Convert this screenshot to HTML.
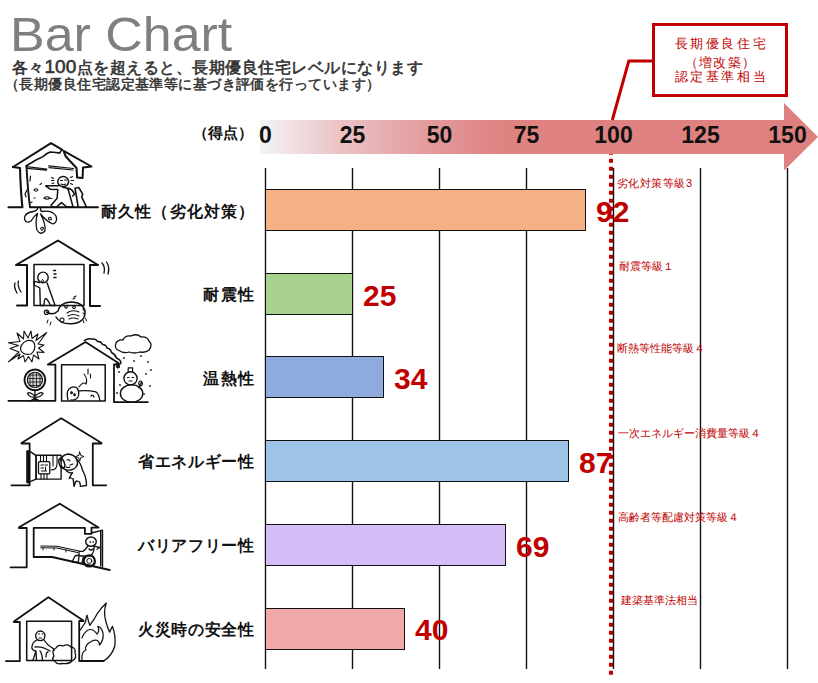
<!DOCTYPE html>
<html><head><meta charset="utf-8">
<style>
@font-face{font-family:"Liberation Sans JP";src:local("Liberation Sans");size-adjust:133%;unicode-range:U+3000-30FF,U+4E00-9FFF,U+FF00-FFEF;}
html,body{margin:0;padding:0;}
body{width:818px;height:683px;overflow:hidden;background:#fff;position:relative;font-family:"Liberation Sans",sans-serif;}
.a{position:absolute;white-space:nowrap;}
.jp{font-family:"Liberation Sans JP","Liberation Sans",sans-serif;text-align:justify;text-align-last:justify;}
#title{left:10.2px;top:6.7px;font-size:49px;line-height:54px;color:#7f7f7f;transform:scaleX(1.06);transform-origin:0 0;}
.ax{font-weight:bold;font-size:23px;line-height:24px;color:#111;top:123px;width:60px;text-align:center;}
.val{font-weight:bold;font-size:30px;line-height:32px;color:#c00000;}
.bar{position:absolute;border:1.3px solid #111;box-sizing:border-box;left:265px;height:42px;}
#callout{left:652px;top:23px;width:135.5px;height:73.5px;border:3px solid #c00000;box-sizing:border-box;}
</style></head>
<body>
<div class="a" id="title">Bar Chart</div>

<svg class="a" style="left:0;top:0" width="818" height="683" viewBox="0 0 818 683">
  <defs>
    <linearGradient id="ag" x1="260" y1="0" x2="818" y2="0" gradientUnits="userSpaceOnUse">
      <stop offset="0" stop-color="#f3f4f8"/>
      <stop offset="0.14" stop-color="#ebc4c6"/>
      <stop offset="0.285" stop-color="#e49ea0"/>
      <stop offset="0.43" stop-color="#df8282"/>
      <stop offset="1" stop-color="#df8080"/>
    </linearGradient>
  </defs>
  <path d="M260 120 H784 V103 L818 137 L784 170.5 V154 H260 Z" fill="url(#ag)"/>
  <g stroke="#111" stroke-width="1.4">
    <line x1="265.5" y1="168" x2="265.5" y2="669"/>
    <line x1="352.5" y1="168" x2="352.5" y2="669"/>
    <line x1="439.5" y1="168" x2="439.5" y2="669"/>
    <line x1="526.5" y1="168" x2="526.5" y2="669"/>
    <line x1="613.5" y1="168" x2="613.5" y2="669"/>
    <line x1="700.5" y1="168" x2="700.5" y2="669"/>
    <line x1="787.5" y1="168" x2="787.5" y2="669"/>
  </g>
  <polyline points="652,61 628.8,61 612.3,120" fill="none" stroke="#c00000" stroke-width="3"/>
  <line x1="611" y1="154" x2="611" y2="675" stroke="#c00000" stroke-width="4" stroke-dasharray="4 4" stroke-dashoffset="3.2"/>
</svg>
<svg class="a" style="left:0;top:0" width="818" height="683" viewBox="0 0 818 683" fill="none" stroke="#111" stroke-width="1.6" stroke-linejoin="round" stroke-linecap="round">
 <g>
  <path d="M13,167 L51,143.2 L62,149.6 M63.6,150.8 L91.5,166.5 L83,167.6 L82.6,178 L77.2,177.6 L76.5,168 L69,160 L65.5,156 L63.6,150.8" stroke-width="2"/>
  <path d="M13,167 L20,168 Q20.6,190 22.4,207.3 H8.5" stroke-width="2.1"/>
  <path d="M26,166 L36,160 L43,156.6 L47,153.5 L50.3,152 L56,152.5 L59.6,153.1 L61.9,149.6"/>
  <path d="M26.5,166.6 L46.8,169 M27,168.4 L46.5,170.2 M48.6,165.9 L73.5,168.5 M49,167.6 L73,170" stroke-width="1.2"/>
  <path d="M26.5,167 Q27.8,190 30,207.3 H98" stroke-width="1.9"/>
  <path d="M75,188.2 L78.7,187.5 L82.7,194.2 L81.7,196.9 L86.4,206.9 M75,188.2 L78.2,207" stroke-width="1.6"/>
  <path d="M38,207.5 Q37,211 33,211.5 Q24,213 24.5,219 Q26,224 31,221 Q34,216 37.5,213.5 Q35,222 37,230 Q40.5,236 45,231 Q46,224 40.5,214 Q47,222 53,224 Q58,222 56,216 Q52,209.5 41.5,211.5 Q40,209.5 40.5,207.5" stroke-width="1.3"/>
  <path d="M40.5,229 q1,-3 3,-1 q-1,3 -2,2 M48.5,218 q2,-2 3,1 q-1,2 -3,0" stroke-width="1.1"/>
  <ellipse cx="63.2" cy="181.6" rx="5.4" ry="5.2" stroke-width="1.5"/>
  <path d="M58.8,185.8 L45.7,185.8 L50.1,189.2 L57.8,189.5 L57.1,198.2 L51.1,205.3 L52.4,207.3 L56.5,207 L61.5,202.6 L66.9,207 L73,206.7 L68.2,189.5 Q66,187 63,187.5 M68,188 Q73,189.5 74.5,194.5 L72.5,196" stroke-width="1.5"/>
  <path d="M60.5,180.5 h2 M64.5,180 h2 M61,184 q2.5,1.5 4.5,0 M70.5,177.5 l2,-1 M71,180.5 l2.5,0 M70.5,183.5 l2,1 M51.5,177.5 l2,1 M51.5,180.5 l2.5,0 M52,183.5 l2,-0.5" stroke-width="1.1"/>
  <path d="M30.5,176 l-0.5,5 M34,190 q2,-2.5 4,0 q-2,2.5 -4,0 M44,198 q3,-2.5 6,0 q-3,2.5 -6,0 M40,184.5 l1.5,-1 M27,190 l-2,4 l1,3 M32,202 l-2,1 M34,198 h1 M51,198.5 h1" stroke-width="1.2"/>
 </g>
 <g>
  <path d="M16,265 L58,240.5 L98,265 M16,265 H27 V305.5 H17 M98,265 H90 V306 H100" stroke-width="2"/>
  <rect x="34" y="264.5" width="50" height="41" stroke-width="1.5"/>
  <ellipse cx="43" cy="277.4" rx="5.2" ry="5.3" stroke-width="1.4"/>
  <path d="M39.5,282.5 L34.3,281.4 L34.3,285 L39.8,288 L40.3,305.5 L44,305.5 Q44,298.5 46,298.5 Q48,300 50.5,305.5 L55.1,305.5 L47,282.8" stroke-width="1.4"/>
  <path d="M42.5,279.5 a1,1.2 0 1 0 0.1,0" stroke-width="1"/>
  <path d="M53.5,270.5 h2 M54,274 h2 M54,277.5 h2" stroke-width="1.5"/>
  <path d="M46.5,312 Q53,316 58,311 Q60,302.5 71,302 Q84,302.5 85,312 Q85,323 71,323.8 Q60,324 56,317" stroke-width="1.5"/>
  <circle cx="46.5" cy="312.3" r="2.2" stroke-width="1.2"/>
  <path d="M66,305.5 a1.3,1.3 0 1 0 0.1,0 M74,306 a1.3,1.3 0 1 0 0.1,0 M67,313 q5,-4 12,-1 M68,316 q5,-3 11,0 M69,319 q4,-2 9,0 M62,318 a2,2 0 1 0 0.1,0 M73,299 l2,-1 M74,297 l2,-1 M83,309 l2,2 M83,313 l2,1" stroke-width="1.1"/>
  <path d="M15,283 Q13.5,287 17,293 M18.5,281 Q17,286 21,292 M102,263 Q105.5,267 104,273 M106.5,262 Q110,267 108,274" stroke-width="1.3"/>
  <path d="M48,320 l-1,3 M51,322 l-1,3 M83,320 l1,3 M85.5,318 l1,3" stroke-width="1"/>
 </g>
 <g>
  <path d="M47.8,364.6 L85.5,342 L118.4,363 M47.8,364.6 H55.4 V400.8 H8.4 M118.4,364.5 H114 V402.2 H147.8" stroke-width="1.8"/>
  <path d="M84.4,340.4 Q88,338 92,339 Q96,338.5 97.5,341.5 Q101,341 102.5,344.5 Q106,344.5 107,348 Q111,349 111.5,352.5 Q115.5,354.5 116.5,358 Q121,360 121,363 Q120,364.5 118.4,363.5" stroke-width="1.4"/><path d="M116.3,364 L117,368 L118.6,368 L118.5,364" fill="#222" stroke-width="1"/>
  <path d="M116.5,363.5 l1,4 h2 l-0.3,-3" stroke-width="1"/>
  <rect x="61.6" y="364.8" width="43.6" height="36.2" stroke-width="1.5"/>
  <path d="M27.5,340.5 Q33,339.5 34.5,344 Q36,350 31,354 Q24,355.5 21,351 Q19,344 27.5,340.5" stroke-width="1.2"/>
  <path d="M8.4,361.8 L19,352 L10,348.5 L18.5,345.5 L8.4,342.7 L20,341.5 L17,333 L23.5,339 L24,331 L28,338 L31,331 L32,338.5 L38,334 L36,340.5 L46.7,332.5 L38,344 L44,345 L38.5,348 L44,352.5 L37,352 L39,359 L33.5,355 L32,362 L28.5,356.5 L25,362 L23.5,355.5 L18,359 L20,354 Z" stroke-width="1.1"/>
  <circle cx="34.9" cy="379.9" r="10.3" stroke-width="2" stroke-dasharray="1.3 1.2"/>
  <circle cx="34.9" cy="379.9" r="7.6" fill="#d4d4d4" stroke-width="1.1"/>
  <path d="M29,375 h12 M28.5,378.5 h13 M28.5,382 h13 M29.5,385.5 h11 M30,374 v12 M33,373 v14 M36.5,373 v14 M40,374 v12" stroke-width="0.8"/>
  <path d="M34.9,390 V400 M34.9,396 Q29,391 27.5,393.5 Q30,398 34.9,397 M34.9,396 Q41,391 43,393.5 Q40,398 34.9,397 M30,401.2 L34.9,398 L40,401.2" stroke-width="1.3"/>
  <path d="M118,350 Q114,348 116,343 Q118,339 123,340 Q125,335 131,336 Q137,333 141,337 Q147,336 149,341 Q153,345 149,350 Q146,353 140,352 Q134,354 129,352 Q124,354 118,350 Z" stroke-width="1.3"/>
  <circle cx="130.5" cy="378.3" r="6.6" stroke-width="1.4"/>
  <ellipse cx="131.6" cy="393.6" rx="11.2" ry="8.8" stroke-width="1.4"/>
  <path d="M128.2,372 v-4.2 h4.4 v4.2 M127.5,377.5 h1.5 M132,377.5 h1.5 M129,381 h3 M139,388 l2.5,-6 M140.5,381 a1.8,2.5 0 1 0 0.1,0" stroke-width="1.2"/>
  <path d="M68,400 Q66,392 69,389 Q73,385.5 77,388 Q80,392 78,397 Q76,400.5 71,400 M78.2,390.9 Q88,390 95.8,391.8 Q99,394 99.8,400.6 M71.5,392 a0.8,0.8 0 1 0 0.1,0 M74.5,394 a0.8,0.8 0 1 0 0.1,0 M91,396 q2,-2 3,1" stroke-width="1.3"/>
  <path d="M79,387 Q83,381 86,384 Q88,379 84,374 M88,369 v5 M90.5,374 v4" stroke-width="1.1"/>
  <g fill="#444" stroke="none"><circle cx="124" cy="358" r="1.1"/><circle cx="134" cy="361" r="1.1"/><circle cx="141" cy="356" r="1.1"/><circle cx="148" cy="362" r="1.1"/><circle cx="146" cy="374" r="1.1"/><circle cx="119" cy="372" r="1.1"/><circle cx="120" cy="385" r="1.1"/><circle cx="144" cy="394" r="1.1"/><circle cx="150" cy="386" r="1.1"/><circle cx="117" cy="393" r="1.1"/><circle cx="151" cy="370" r="1.1"/></g>
 </g>
 <g>
  <path d="M21.5,443 L61.2,418.3 L101.5,443 M21.5,443.5 H29.6 V485.3 H11.4 M101.5,443.5 H92.8 V485.3 H106.2" stroke-width="1.8"/>
  <path d="M29.6,451.2 L36.1,455.7 L36.1,479.1 L29.6,481.9" stroke-width="1.5"/>
  <path d="M27.8,451.5 V482" stroke-width="3.2"/>
  <rect x="36.1" y="455.3" width="25" height="23.8" stroke-width="1.4"/>
  <rect x="38.5" y="461.7" width="11.3" height="12.1" rx="1" stroke-width="1.3"/>
  <path d="M40.5,456 v5.5 M43.5,456 v5.5 M46.5,456 v5.5 M41,474 v5 M44,474 v5 M47,474 v5 M53,456 v10 M57,456 v8 M57,464 Q57,470 51,470 M41,465 h2.5 M45,465 h2.5 M41,468 h2.5 M45.5,467 v3 M41.5,471 h5" stroke-width="1.1"/>
  <path d="M61,461.5 Q61,455 68,454 Q76,454.5 77.5,462 Q78,468 71,470 Q64,471 61.5,466" stroke-width="1.4"/>
  <ellipse cx="61.8" cy="463.3" rx="2.6" ry="5" transform="rotate(-18 61.8 463.3)" stroke-width="1.5"/>
  <path d="M76,458.5 Q81,463 82.5,470 Q86,477 86.3,482 L86.5,485.5 L80.5,486.4 L79.7,482.3 Q77,480 75.5,482 L74,486.4 L73.2,479 Q70,477 69.2,478.3 M66,470.5 Q70,474 72.5,472.6 L69.5,477.5" stroke-width="1.4"/>
  <path d="M67,460 q2,-1 3,1 M70,465 l3,-1 M66,467 q2,1 4,0" stroke-width="1.1"/>
  <path d="M79.7,452 L80.8,455.4 L84,456.5 L80.8,457.6 L79.7,461 L78.6,457.6 L75.5,456.5 L78.6,455.4 Z" stroke-width="1"/>
 </g>
 <g>
  <path d="M19,527.3 L59.8,503.7 L98.5,527.6 H91.5 V533.8 H84.9 V527.9 H33.7 V557 H52 L109.8,570 M19,528 H26.7 V567.4 H10.5" stroke-width="1.8"/>
  <path d="M91.5,533 L102.5,530.1 L102.5,566.8 M100.7,531.6 V565.7" stroke-width="1.4"/>
  <path d="M40.8,546 L57,546.3 L79,551 M40.8,547.8 L57,548 L77.6,552.5" stroke-width="1.1"/>
  <path d="M43,548 v2 M54,548 v2 M66,550 v2" stroke-width="1"/>
  <circle cx="89.3" cy="560.9" r="5.6" stroke-width="2.2"/>
  <circle cx="89.3" cy="560.9" r="2.5" stroke-width="1"/>
  <ellipse cx="91" cy="541.6" rx="5.3" ry="4.6" stroke-width="1.4"/>
  <path d="M88,546 Q85,550 83,551.4 L79,551.4 L79,556 L90.8,555.8 Q95,551 94,546 M94.4,546.2 L99.6,547.5 L97,549.2 M79,555 L75,556 L72,562 L78.3,562.4 L79,556 M83.5,556 L82,563 L85,564 M89,549 q2,2 4,0 M90,542 h0.5 M93,542 h0.5" stroke-width="1.3"/>
 </g>
 <g>
  <path d="M13.9,621.5 L48.4,597.3 L83.6,620.8 M13.9,622 H19.8 V661.1 H5.9 M83.6,621 H79.2 V661 H103.4" stroke-width="1.8"/>
  <rect x="26.7" y="621.3" width="44.9" height="39.2" stroke-width="1.5"/>
  <ellipse cx="40.3" cy="635.8" rx="4.6" ry="4.8" stroke-width="1.4"/>
  <path d="M37,640 Q32,642 31.8,648 Q33,651 36,651 L33,660 M44,640 Q47,645 52.3,648 M35,647 Q42,646 50,651 M36,651 L36.5,660 M40,651 Q42,653 42.5,660.5 M46,657 Q46,652 48,652 M52.5,648 l2,2" stroke-width="1.3"/>
  <path d="M38.5,634 h1 M42,634 h1 M39,638 h2.5" stroke-width="1"/>
  <path d="M54,656 Q51,650 56,648 Q58,644 63,646 Q68,643.5 71,647 Q76,647.5 75,653 Q77.5,658 72,661 Q69,664.5 62.5,663.5 Q57,665 55,661.5 Q51,660 54,656 Z" stroke-width="1.3"/>
  <path d="M79.5,631 Q83,626 85.5,622 Q86,618 87,615.1 Q88.5,622 89.8,625.3 Q94,620 97.8,612.8 Q102,607 106.3,603.1 Q103,612 106,622 Q108,629 109.7,632.1 Q111.5,628 112.5,626.4 Q116,636 114.8,646 Q112,656 103.4,661.1" stroke-width="1.3"/>
  <path d="M82,660 Q81,652 86,650 Q84,645 92,641 Q99,638 99.5,645 Q104,640 103,633 Q101.5,627 97.8,626.4 Q100,631 97,634 Q93,628 88,630 Q83.5,633 82,638" stroke-width="1.2"/>
 </g>
</svg>

<div class="bar" style="top:189px;width:321px;background:#f4b183"></div>
<div class="bar" style="top:272.5px;width:88px;background:#a9d18e"></div>
<div class="bar" style="top:356px;width:119px;background:#8faadc"></div>
<div class="bar" style="top:439.5px;width:304px;background:#9dc3e6"></div>
<div class="bar" style="top:523.5px;width:241px;background:#d6bdf7"></div>
<div class="bar" style="top:607.5px;width:140px;background:#f1a8a8"></div>

<div class="a" id="callout"></div>

<div class="a ax" style="left:235.5px">0</div>
<div class="a ax" style="left:322.5px">25</div>
<div class="a ax" style="left:409.5px">50</div>
<div class="a ax" style="left:496.5px">75</div>
<div class="a ax" style="left:583.5px">100</div>
<div class="a ax" style="left:670.5px">125</div>
<div class="a ax" style="left:757.5px">150</div>

<div class="a val" style="left:596px;top:196px">92</div>
<div class="a val" style="left:363px;top:280px">25</div>
<div class="a val" style="left:394px;top:363px">34</div>
<div class="a val" style="left:579px;top:447px">87</div>
<div class="a val" style="left:516px;top:531px">69</div>
<div class="a val" style="left:415px;top:614px">40</div>

<div class="a jp" style="left:11.5px;top:56.5px;width:411.5px;font-size:16px;line-height:20px;color:#333;-webkit-text-stroke:0.6px #333;">各々<span style="font-size:19px">100</span>点を超えると、長期優良住宅レベルになります</div>
<div class="a jp" style="left:5.0px;top:74.5px;width:375.0px;font-size:13.5px;line-height:20px;color:#333;-webkit-text-stroke:0.5px #333;">（長期優良住宅認定基準等に基づき評価を行っています）</div>
<div class="a jp" style="left:193.0px;top:122.5px;width:59.5px;font-size:15px;line-height:20px;color:#111;font-weight:bold;">（得点）</div>
<div class="a jp" style="left:101.0px;top:201.7px;width:153.0px;font-size:16px;line-height:20px;color:#111;font-weight:bold;">耐久性（劣化対策）</div>
<div class="a jp" style="left:203.0px;top:285.3px;width:51.0px;font-size:16px;line-height:20px;color:#111;font-weight:bold;">耐震性</div>
<div class="a jp" style="left:203.0px;top:368.7px;width:51.0px;font-size:16px;line-height:20px;color:#111;font-weight:bold;">温熱性</div>
<div class="a jp" style="left:138.0px;top:452.3px;width:116.0px;font-size:16px;line-height:20px;color:#111;font-weight:bold;">省エネルギー性</div>
<div class="a jp" style="left:138.0px;top:536.3px;width:116.0px;font-size:16px;line-height:20px;color:#111;font-weight:bold;">バリアフリー性</div>
<div class="a jp" style="left:138.0px;top:620.4px;width:116.0px;font-size:16px;line-height:20px;color:#111;font-weight:bold;">火災時の安全性</div>
<div class="a jp" style="left:617.0px;top:172.5px;width:75.0px;font-size:11px;line-height:20px;color:#c00000;">劣化対策等級3</div>
<div class="a jp" style="left:619.0px;top:255.5px;width:53.5px;font-size:11px;line-height:20px;color:#c00000;">耐震等級１</div>
<div class="a jp" style="left:617.0px;top:338.0px;width:88.0px;font-size:11px;line-height:20px;color:#c00000;">断熱等性能等級４</div>
<div class="a jp" style="left:618.0px;top:423.0px;width:141.5px;font-size:11px;line-height:20px;color:#c00000;">一次エネルギー消費量等級４</div>
<div class="a jp" style="left:617.5px;top:507.0px;width:120.0px;font-size:11px;line-height:20px;color:#c00000;">高齢者等配慮対策等級４</div>
<div class="a jp" style="left:621.0px;top:590.0px;width:77.0px;font-size:11px;line-height:20px;color:#c00000;">建築基準法相当</div>
<div class="a jp" style="left:674.5px;top:34.0px;width:91.0px;font-size:13px;line-height:20px;color:#c00000;">長期優良住宅</div>
<div class="a jp" style="left:684.5px;top:53.3px;width:70.5px;font-size:13px;line-height:20px;color:#c00000;">（増改築）</div>
<div class="a jp" style="left:674.5px;top:67.3px;width:91.0px;font-size:13px;line-height:20px;color:#c00000;">認定基準相当</div>
</body></html>
